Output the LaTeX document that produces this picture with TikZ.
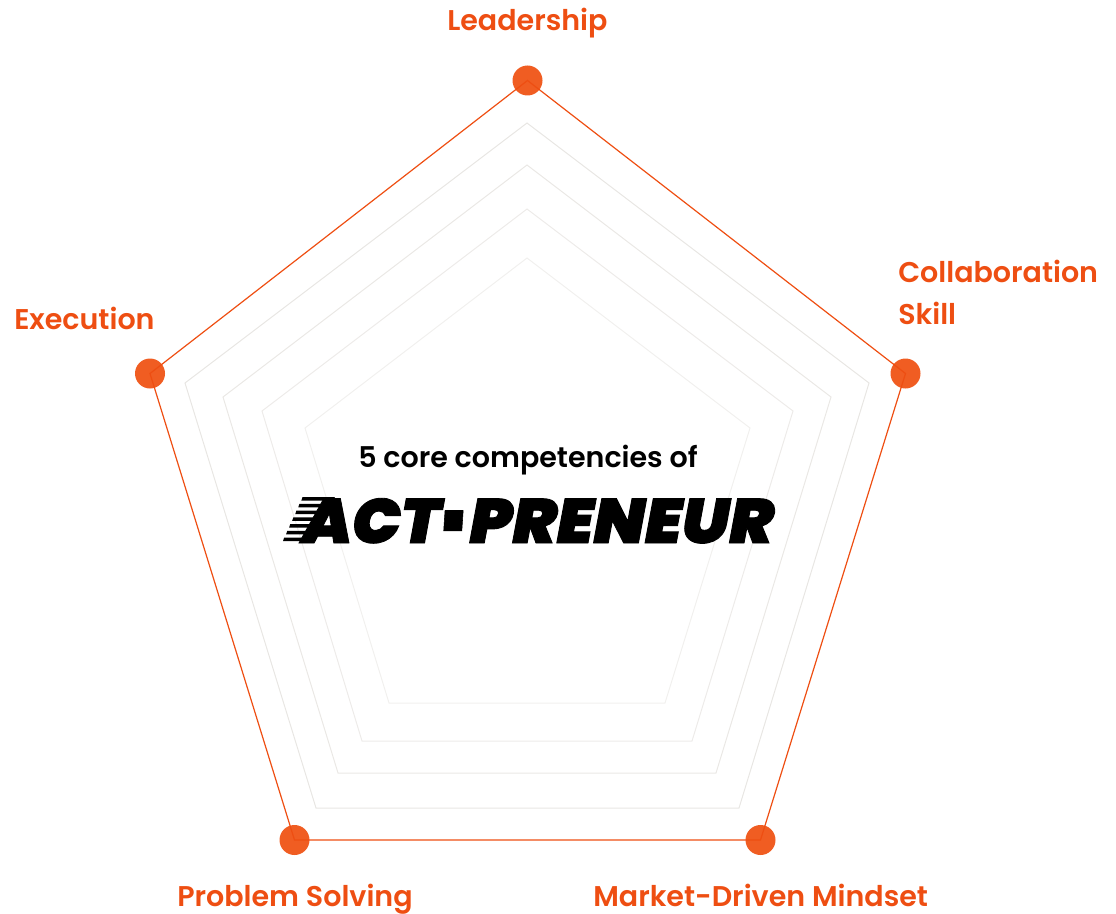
\documentclass[tikz,border=0pt]{standalone}
\usepackage{fontspec}
\setmainfont{Poppins}
\newfontfamily\labelfont{Poppins SemiBold}
\newfontfamily\logofont[FakeBold=1.4]{Poppins Black Italic}
\definecolor{accent}{HTML}{EE4E12}
\definecolor{dotc}{HTML}{F05D22}
\definecolor{ringone}{HTML}{E8E6E3}
\definecolor{ringtwo}{HTML}{EAE8E5}
\definecolor{ringthree}{HTML}{EDEBE9}
\definecolor{ringfour}{HTML}{F1F0EE}
\tikzset{
  lab/.style={text=accent,font=\labelfont\fontsize{21.4}{25}\selectfont,inner sep=0pt,align=left},
  ringa/.style={draw=#1,line width=.75pt,line join=miter},
  dotn/.style={circle,fill=dotc,minimum size=22.5pt,inner sep=0pt},
  speed/.style={fill=black,draw=none},
}
\begin{document}
\begin{tikzpicture}[x=.75pt,y=-.75pt]
\useasboundingbox (0,0) rectangle (1116,913);
\draw[ringa=ringone] (527,123)--(869,383)--(739,808)--(316,808)--(185,383)--cycle;
\draw[ringa=ringtwo] (527,165)--(831,397)--(716,773)--(338,773)--(223,397)--cycle;
\draw[ringa=ringthree] (527,209)--(793,411)--(692,741)--(362,741)--(262,411)--cycle;
\draw[ringa=ringfour] (527,258)--(750,428)--(665,703)--(389,703)--(305,428)--cycle;
\node[dotn] (top) at (527.5,80.5) {};
\node[dotn] (right) at (905.5,373.5) {};
\node[dotn] (lr) at (760.5,840) {};
\node[dotn] (ll) at (294.5,840) {};
\node[dotn] (left) at (150,373.5) {};
\draw[accent,line width=.9pt] (top.center)--(right.center)--(lr.center)--(ll.center)--(left.center)--cycle;
\node[lab,anchor=base west] (t1) at (447,31) {Leadership};
\node[lab,anchor=base west] (t2) at (898,282) {Collaboration};
\node[lab,anchor=base west] (t3) at (898,324) {Skill};
\node[lab,anchor=base west] (t4) at (14,329) {Execution};
\node[lab,anchor=base west] (t5) at (177,906.5) {Problem Solving};
\node[lab,anchor=base west] (t6) at (593,906.5) {Market-Driven Mindset};
\node[anchor=base west,inner sep=0pt,font=\labelfont\fontsize{21.4}{25}\selectfont] (c1) at (358,467) {5 core competencies of};
% speed stripes of the logo
\foreach \k in {0,...,6} {
  \pgfmathsetmacro{\yt}{497+6.75*\k}
  \pgfmathsetmacro{\yb}{\yt+3.7}
  \pgfmathsetmacro{\xl}{302.5-3.05*\k}
  \pgfmathsetmacro{\xr}{335-4.2*\k}
  \fill[speed] (\xl,\yt)--(\xr,\yt)--(\xr-2,\yb)--(\xl-1.2,\yb)--cycle;
}
\node[anchor=base west,inner sep=0pt,font=\logofont\fontsize{47}{50}\selectfont] (c2) at (302,543) {\scalebox{1.03}[1]{ACT}\kern2pt\raisebox{-10.5pt}{\scalebox{.62}[1.7]{-}}\kern3pt\scalebox{1.055}[1]{PRENEUR}};
\end{tikzpicture}
\end{document}
